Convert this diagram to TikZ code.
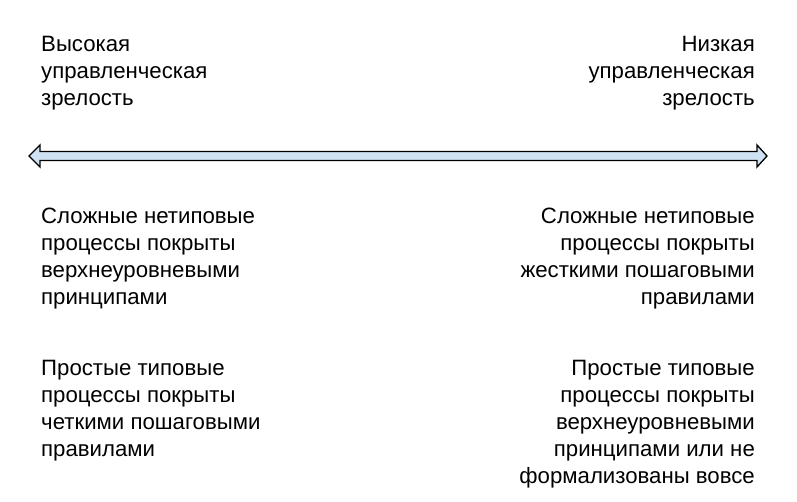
\documentclass[tikz,border=0pt]{standalone}
\usepackage{fontspec}
\setmainfont{Liberation Sans}
\definecolor{arrowfill}{HTML}{CFE2F3}
\begin{document}
\begin{tikzpicture}[x=1pt,y=-1pt,
  txt/.style={inner sep=0pt,font=\fontsize{22.2}{27}\selectfont},
  lefttxt/.style={txt,align=left,anchor=base west},
  righttxt/.style={txt,align=right,anchor=base east}]
\useasboundingbox (0,0) rectangle (797,501);
\fill[white] (0,0) rectangle (797,501);
% double arrow
\draw[fill=arrowfill,line width=1.3pt,line join=miter]
  (29,156) -- (40,145) -- (40,151.5) -- (757,151.5) -- (757,145) -- (767,156)
  -- (757,167) -- (757,160.5) -- (40,160.5) -- (40,167) -- cycle;
% base anchor = baseline of the last line
\node[lefttxt] (hl) at (41,105.5) {Высокая\\управленческая\\зрелость};
\node[righttxt] (hr) at (755,105.5) {Низкая\\управленческая\\зрелость};
\node[lefttxt] (cl) at (41,304) {Сложные нетиповые\\процессы покрыты\\верхнеуровневыми\\принципами};
\node[righttxt] (cr) at (755,304) {Сложные нетиповые\\процессы покрыты\\жесткими пошаговыми\\правилами};
\node[lefttxt] (sl) at (41,456) {Простые типовые\\процессы покрыты\\четкими пошаговыми\\правилами};
\node[righttxt] (sr) at (755,483) {Простые типовые\\процессы покрыты\\верхнеуровневыми\\принципами или не\\формализованы вовсе};
\end{tikzpicture}
\end{document}
